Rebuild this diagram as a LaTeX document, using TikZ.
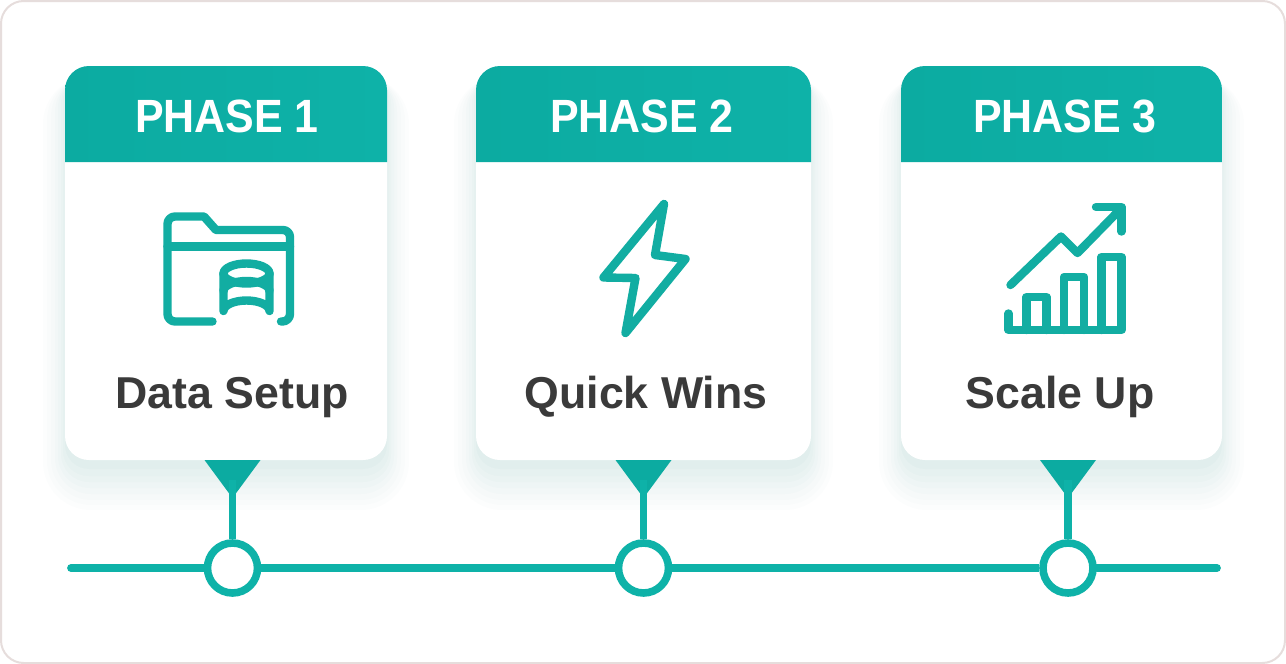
\documentclass[tikz,border=0pt]{standalone}
\usepackage{fontspec}
\setmainfont{Liberation Sans}
\newfontfamily\headfont[FakeStretch=0.92]{Liberation Sans}
\definecolor{tealmain}{HTML}{0EB2A8}
\definecolor{tealdark}{HTML}{0CABA1}
\definecolor{tealicon}{HTML}{12ADA2}
\definecolor{tealshadow}{HTML}{2E8F8C}
\definecolor{labelgray}{HTML}{3A3A3A}
\definecolor{framegray}{HTML}{E6DDDC}
\tikzset{
    cardbox/.style={fill=white, rounded corners=18pt, minimum height=295.5pt, inner sep=0pt},
    headfill/.style={left color=tealdark, right color=tealmain},
    headtext/.style={text=white, font=\headfont\fontsize{35}{40}\selectfont\bfseries, anchor=base},
    nametext/.style={text=labelgray, font=\fontsize{33.5}{38}\selectfont\bfseries, anchor=base},
    iconline/.style={draw=tealicon, line width=6.3pt, line cap=round, line join=round},
    railline/.style={draw=tealmain, line width=5.8pt},
    dotnode/.style={circle, draw=tealmain, fill=white, line width=5.7pt, minimum size=37.5pt, inner sep=0pt}
}
% soft shadow: left, top, right, bottom
\newcommand{\softshadow}[4]{
    \fill [tealshadow, opacity=0.010, rounded corners=36pt] (#1-22,#2+10) rectangle (#3+22,#4+50);
    \fill [tealshadow, opacity=0.011, rounded corners=33pt] (#1-18,#2+10) rectangle (#3+18,#4+45);
    \fill [tealshadow, opacity=0.013, rounded corners=30pt] (#1-14,#2+10) rectangle (#3+14,#4+40);
    \fill [tealshadow, opacity=0.015, rounded corners=27pt] (#1-10,#2+10) rectangle (#3+10,#4+34);
    \fill [tealshadow, opacity=0.017, rounded corners=24pt] (#1-7,#2+10) rectangle (#3+7,#4+28);
    \fill [tealshadow, opacity=0.019, rounded corners=21pt] (#1-4,#2+10) rectangle (#3+4,#4+22);
    \fill [tealshadow, opacity=0.021, rounded corners=19pt] (#1-2,#2+10) rectangle (#3+2,#4+16);
    \fill [tealshadow, opacity=0.023, rounded corners=18pt] (#1,#2+10) rectangle (#3,#4+9);
}
\begin{document}
\begin{tikzpicture}[x=0.75pt, y=-0.75pt]
    \useasboundingbox (0,0) rectangle (1286,664);
    \draw [draw=framegray, fill=white, line width=1.5pt, rounded corners=17pt] (1,1) rectangle (1285,663);

    \softshadow{65}{66}{387}{460}
    \softshadow{476}{66}{811}{460}
    \softshadow{901}{66}{1222}{460}

    \node (card1) [cardbox, minimum width=241.5pt] at (226,263) {};
    \node (card2) [cardbox, minimum width=251.25pt] at (643.5,263) {};
    \node (card3) [cardbox, minimum width=240.75pt] at (1061.5,263) {};

    \shade [headfill] (65,162) {[rounded corners=18pt] -- (65,66) -- (387,66)} -- (387,162) -- cycle;
    \shade [headfill] (476,162) {[rounded corners=18pt] -- (476,66) -- (811,66)} -- (811,162) -- cycle;
    \shade [headfill] (901,162) {[rounded corners=18pt] -- (901,66) -- (1222,66)} -- (1222,162) -- cycle;

    \node (head1) [headtext] at (227,132) {PHASE 1};
    \node (head2) [headtext] at (642,132) {PHASE 2};
    \node (head3) [headtext] at (1065,132) {PHASE 3};

    \node (name1) [nametext] at (232,408) {Data Setup};
    \node (name2) [nametext] at (646,408) {Quick Wins};
    \node (name3) [nametext] at (1060,408) {Scale Up};

    % folder
    \draw [iconline] (212.5,321.5) -- (175,321.5) arc (90:180:7.5) -- (167.5,224) arc (180:270:7.5) -- (204,216.5) -- (216,230) -- (283,230) arc (270:360:7) -- (290,314) arc (0:90:7.5) -- (281,321.5);
    \draw [iconline] (167.5,246.5) -- (290,246.5);
    \draw [iconline] (246.5,273.5) ellipse [x radius=23, y radius=10];
    \draw [iconline] (223.5,273.5) -- (223.5,311) arc (180:360:23 and 10.5) -- (269.5,273.5);
    \draw [iconline] (223.5,291) arc (180:360:23 and 10);

    % bolt
    \draw [iconline] (664,204) -- (655,255) -- (685.5,259) -- (625.5,333) -- (635.5,278) -- (603.5,277.5) -- cycle;

    % chart
    \draw [iconline] (1010.5,285) -- (1061,236.5) -- (1077.5,253) -- (1121.5,208);
    \draw [iconline] (1096,207) -- (1121.5,207) -- (1121.5,231.5);
    \draw [iconline] (1008.5,313.5) -- (1008.5,330) -- (1121.5,330) -- (1121.5,257) -- (1101.5,257) -- (1101.5,330);
    \draw [iconline] (1026.5,330) -- (1026.5,297) -- (1046.5,297) -- (1046.5,330);
    \draw [iconline] (1064,330) -- (1064,277) -- (1084,277) -- (1084,330);

    % rail
    \coordinate (railstart) at (71,568);
    \coordinate (railend) at (1217,568);
    \coordinate (neck1) at (232.5,480);
    \coordinate (neck2) at (643.5,480);
    \coordinate (neck3) at (1068,480);
    \node (dot1) [dotnode] at (232.5,568) {};
    \node (dot2) [dotnode] at (643.5,568) {};
    \node (dot3) [dotnode] at (1068,568) {};
    \draw [railline, line cap=round] (railstart)-- (dot1);
    \draw [railline] (dot1)-- (dot2);
    \draw [railline] (dot2)-- (dot3);
    \draw [railline, line cap=round] (dot3)-- (railend);
    \fill [tealdark] (204.5,460) -- (260.5,460) -- (232.5,498) -- cycle;
    \fill [tealdark] (615.5,460) -- (671.5,460) -- (643.5,498) -- cycle;
    \fill [tealdark] (1040,460) -- (1096,460) -- (1068,498) -- cycle;
    \draw [railline] (neck1)-- (dot1);
    \draw [railline] (neck2)-- (dot2);
    \draw [railline] (neck3)-- (dot3);
\end{tikzpicture}
\end{document}
